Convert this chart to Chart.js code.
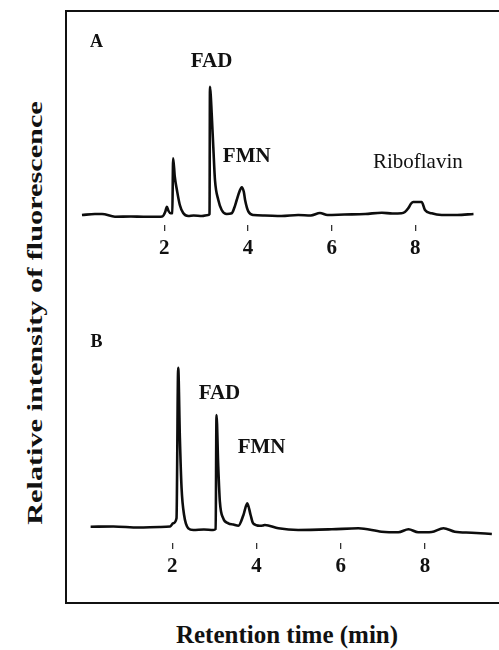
<!DOCTYPE html>
<html><head><meta charset="utf-8">
<script src="https://cdn.jsdelivr.net/npm/chart.js@4.4.1/dist/chart.umd.min.js"></script>
<style>
html,body{margin:0;padding:0;background:#fff;width:499px;height:650px;overflow:hidden;position:relative;}
canvas{position:absolute;left:0;top:0;pointer-events:none;}
#frame{position:absolute;left:65px;top:10px;width:520px;height:590px;border-left:2px solid #111;border-top:2px solid #111;border-bottom:2px solid #111;}
#ytitle{position:absolute;left:35px;top:313px;transform:translate(-50%,-50%) rotate(-90deg) scaleX(1.44);white-space:nowrap;font:bold 21px "Liberation Serif";color:#111;}
#xtitle{position:absolute;left:287px;top:635px;transform:translate(-50%,-50%);white-space:nowrap;font:bold 25px "Liberation Serif";color:#111;}
</style></head>
<body>
<div id="frame"></div>
<div id="ytitle">Relative intensity of fluorescence</div>
<div id="xtitle">Retention time (min)</div>
<canvas id="cA" width="499" height="650"></canvas>
<canvas id="cB" width="499" height="650"></canvas>
<script>
// ---- data (retention time in min, relative fluorescence intensity) ----
const timesA = [0.03,0.34,0.51,0.82,1.2,1.5,1.85,1.95,2.02,2.06,2.10,2.15,2.19,2.21,2.25,2.30,2.37,2.45,2.57,2.7,2.9,3.05,3.08,3.09,3.11,3.14,3.17,3.21,3.29,3.37,3.49,3.61,3.67,3.73,3.80,3.85,3.90,3.93,4.01,4.13,4.4,4.8,5.2,5.5,5.72,5.9,6.3,6.8,7.2,7.45,7.67,7.75,7.83,7.9,7.95,8.15,8.23,8.39,8.63,9.0,9.39];
const intensityA = [1,2,2,-0.7,-0.5,-0.7,-0.7,-0.5,4,9.3,5,2.7,3,57.7,39,26,11,3,0,0.5,0,1,2,129.3,120,95,69,36,16,6,2,2.7,8,16,25,28.7,24,16,4.3,1,0.5,0,1,0.5,3,1,1.5,2,3.3,2.5,2.7,4,7.7,12.5,14,14,6,2.7,1,1,2];

const timesB = [0.06,0.6,1.2,1.7,1.95,2.02,2.10,2.14,2.18,2.22,2.28,2.38,2.50,2.75,2.97,3.03,3.05,3.09,3.13,3.21,3.33,3.45,3.57,3.69,3.78,3.86,3.92,4.08,4.15,4.20,4.52,4.99,5.79,6.42,6.97,7.37,7.61,7.84,8.16,8.44,8.71,9.11,9.59];
const intensityB = [0.3,0.5,-0.5,0,0.5,3.7,8.7,159.3,89,39,12,-1.3,-3,-2.5,-3,-2,112,62,25.3,8.7,3.7,2.5,1.3,12,23.7,12,3.7,1.3,1.5,2,-1.3,-3,-2.3,-1.3,-4.7,-5.3,-2.3,-5.3,-5,-1.3,-4.7,-5.7,-7];

const tickTimes = [2,4,6,8];

const peakNamesA = ['FAD','FMN','Riboflavin'];
const peakNameTimesA = [3.13,3.97,8.06];
const peakNameHeightsA = [154,59,54];

const peakNamesB = ['FAD','FMN'];
const peakNameTimesB = [3.12,4.12];
const peakNameHeightsB = [133,79];

const panelLetters = ['A','B'];

// ---- label plugin ----
const peakLabelPlugin = {
  id:'peakLabels',
  afterDatasetsDraw(chart, args, o){
    const ctx = chart.ctx, x = chart.scales.x, y = chart.scales.y;
    ctx.save();
    ctx.fillStyle = '#111';
    ctx.textAlign = 'center';
    ctx.textBaseline = 'middle';
    o.items.forEach(it => {
      ctx.font = it.font;
      ctx.fillText(it.text, x.getPixelForValue(it.t), y.getPixelForValue(it.v));
    });
    ctx.restore();
  }
};

const BOLD = 'bold 21px "Liberation Serif"';
const REG = '21px "Liberation Serif"';
const LET = 'bold 18px "Liberation Serif"';

function makePanel(id, times, values, cfg){
  return new Chart(document.getElementById(id), {
    type:'line',
    data:{datasets:[{
      data: times.map((t,i)=>({x:t, y:values[i]})),
      borderColor:'#0d0d0d', borderWidth:2.6, pointRadius:0,
      cubicInterpolationMode:'monotone', fill:false
    }]},
    options:{
      responsive:false, animation:false, events:[],
      layout:{padding:cfg.padding},
      plugins:{legend:{display:false}, tooltip:{enabled:false}, peakLabels:{items:cfg.items}},
      scales:{
        x:{type:'linear', min:0, max:cfg.xMax,
           afterBuildTicks: s => { s.ticks = tickTimes.map(v=>({value:v})); },
           afterFit: s => { s.height = 40; },
           grid:{display:true, drawOnChartArea:false, drawTicks:true, tickLength:6, color:'#333', lineWidth:1.3},
           border:{display:false},
           ticks:{color:'#111', padding:5, font:{family:'"Liberation Serif"', size:21, weight:'bold'}}
        },
        y:{type:'linear', display:false, min:cfg.yMin, max:cfg.yMax}
      }
    },
    plugins:[peakLabelPlugin]
  });
}

const itemsA = [{text:panelLetters[0], t:0.38, v:174, font:LET}].concat(
  peakNamesA.map((n,i)=>({text:n, t:peakNameTimesA[i], v:peakNameHeightsA[i], font: n==='Riboflavin'?REG:BOLD})));
const itemsB = [{text:panelLetters[1], t:0.20, v:185, font:LET}].concat(
  peakNamesB.map((n,i)=>({text:n, t:peakNameTimesB[i], v:peakNameHeightsB[i], font:BOLD})));

makePanel('cA', timesA, intensityA, {padding:{left:80.7,right:0,top:20,bottom:385}, xMax:10, yMin:-9, yMax:196, items:itemsA});
makePanel('cB', timesB, intensityB, {padding:{left:88.1,right:0,top:330,bottom:67}, xMax:9.76, yMin:-16, yMax:197, items:itemsB});
</script>
</body></html>
